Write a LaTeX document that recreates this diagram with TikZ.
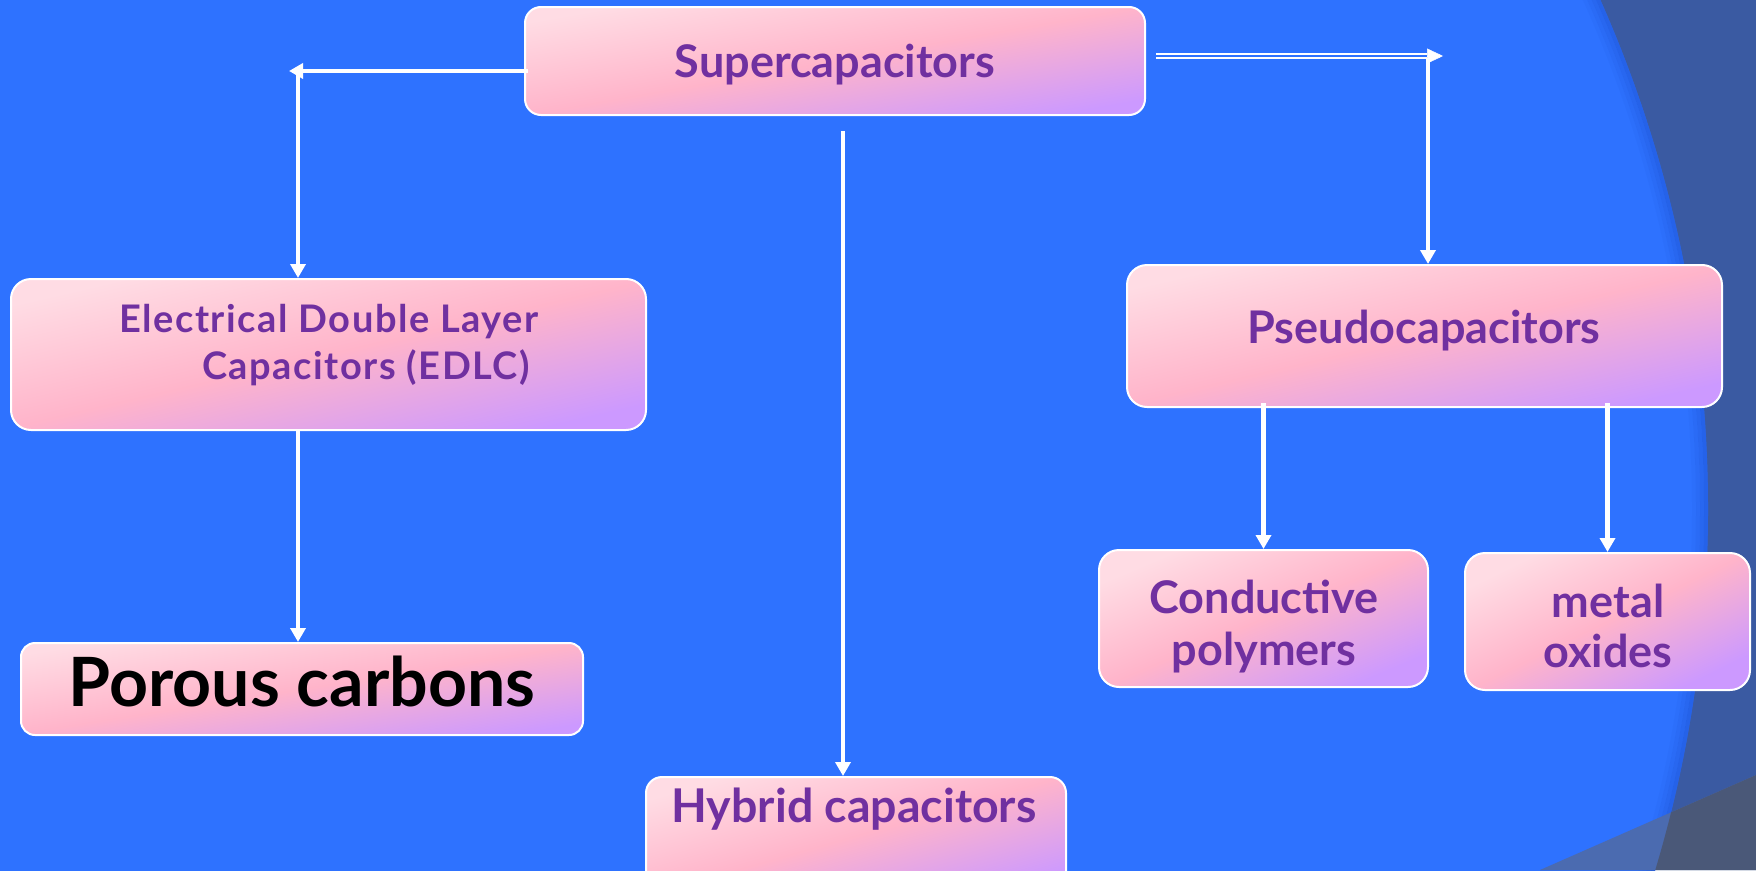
\documentclass[tikz,border=0pt]{standalone}
\usepackage{fontspec}
\setmainfont{Lato}
\usetikzlibrary{arrows.meta,calc}
\definecolor{bgblue}{HTML}{2E72FF}
\definecolor{bandblue}{HTML}{3A5AA2}
\definecolor{bandgray}{HTML}{4A5878}
\definecolor{bandlight}{HTML}{4B6BB0}
\definecolor{shadeblue}{HTML}{1C50D0}
\definecolor{pinklight}{HTML}{FFDCE4}
\definecolor{pinkmid}{HTML}{FFB4CA}
\definecolor{lavender}{HTML}{CC99FF}
\definecolor{txtpurple}{HTML}{7030A0}
\tikzset{
  boxnode/.style={draw=white, line width=2pt, rounded corners=16pt,
    top color=pinklight, bottom color=lavender, middle color=pinkmid,
    inner sep=0pt},
  lbl/.style={anchor=base, text=txtpurple, inner sep=0pt,
    font=\fontsize{45}{45}\selectfont\bfseries},
  arr/.style={draw=white, line width=4.5pt, -{Triangle[length=14pt,width=15pt]}},
  dbl/.style={draw=white, line width=1.6pt, double=bgblue, double distance=2pt},
}
\begin{document}
\begin{tikzpicture}[x=1pt,y=-1pt]
\useasboundingbox (0,0) rectangle (1756,870);
\clip (0,0) rectangle (1756,870);
% background
\fill[bandblue] (0,0) rectangle (1756,870);
\fill[bgblue] (454,509) circle[radius=1254pt];
\foreach \r/\o in {1252/0.45,1248/0.3,1244/0.18,1240/0.08}
  \draw[shadeblue, opacity=\o, line width=4pt] (454,509) circle[radius=\r pt];
\fill[bandlight] (1540,870) -- (1756,775) -- (1756,870) -- cycle;
\begin{scope}
  \clip (1540,870) -- (1756,775) -- (1756,870) -- cycle;
  \fill[bandgray, even odd rule] (1300,700) rectangle (1756,870) (454,509) circle[radius=1254pt];
\end{scope}

% boxes
\node[boxnode, shading angle=10, minimum width=620pt, minimum height=108pt] (sup) at (835,61) {};
\node[boxnode, shading angle=13, minimum width=635pt, minimum height=151pt, rounded corners=20pt] (edlc) at (328.5,354.5) {};
\node[boxnode, shading angle=13, minimum width=595pt, minimum height=142pt, rounded corners=20pt] (pseudo) at (1424.5,336) {};
\node[boxnode, shading angle=9, minimum width=562pt, minimum height=92pt, rounded corners=14pt] (porous) at (302,689) {};
\node[boxnode, shading angle=16, minimum width=420pt, minimum height=118pt] (hybrid) at (856,836) {};
\node[boxnode, shading angle=23, minimum width=329pt, minimum height=137pt, rounded corners=20pt] (cond) at (1263.5,618.5) {};
\node[boxnode, shading angle=26, minimum width=285pt, minimum height=137pt, rounded corners=20pt] (metal) at (1607.5,621.5) {};

% labels
\node[lbl] (supT) at (835,77) {Supercapacitors};
\node[lbl, anchor=center, align=left, font={\fontsize{38}{47}\selectfont\bfseries\addfontfeatures{LetterSpace=4}}] (edlcT) at (329,345)
  {Electrical Double Layer\\\hspace*{83pt}Capacitors (EDLC)};
\node[lbl] (pseudoT) at (1424,343) {Pseudocapacitors};
\node[lbl, text=black, font=\fontsize{68}{68}\selectfont\bfseries] (porousT) at (302,706) {Porous carbons};
\node[lbl, font=\fontsize{46.5}{46.5}\selectfont\bfseries] (hybridT) at (854,822) {Hybrid capacitors};
\node[lbl] (condA) at (1264,613) {Conductive};
\node[lbl] (condB) at (1264,665) {polymers};
\node[lbl] (metalA) at (1608,617) {metal};
\node[lbl] (metalB) at (1608,667) {oxides};

% connectors
\coordinate (lt) at (289,71);
\coordinate (ltv) at (298,68);
\coordinate (hyb0) at (843,131);
\coordinate (rt0) at (1156,56);
\coordinate (rt1) at (1427,56);
\coordinate (rtip) at (1443,56);
\coordinate (rtv) at (1428,58);

\draw[arr] ($(sup.west)+(4,10)$) -- (lt);
\draw[arr] (ltv) -- (ltv |- edlc.north);
\draw[arr] (ltv |- edlc.south) -- (ltv |- porous.north);
\draw[arr] (hyb0) -- (hyb0 |- hybrid.north);
\draw[dbl] (rt0) -- (rt1);
\draw[draw=white, line width=0.5pt, -{Triangle[length=16pt,width=15pt]}] (rt1) -- (rtip);
\draw[arr] (rtv) -- (rtv |- pseudo.north);
\draw[arr] ($(cond.north |- pseudo.south)+(0,-5)$) -- (cond.north);
\draw[arr] ($(metal.north |- pseudo.south)+(0,-5)$) -- (metal.north);
\end{tikzpicture}
\end{document}
